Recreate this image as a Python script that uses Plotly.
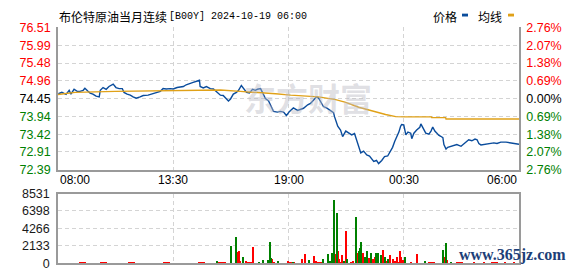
import plotly.graph_objects as go
import pandas as pd

W, H = 578, 276
BASE_DAY = "2024-10-18"
NEXT_DAY = "2024-10-19"

# ---------------- data ----------------
price_times = ["08:01","08:11","08:23","08:32","08:37","08:46","08:55","09:03","09:12","09:17","09:26","09:32","09:40","09:49","09:58","10:01","10:09","10:18","10:26","10:38","10:46","10:55","11:04","11:09","11:18","11:27","11:35","11:44","11:55","12:04","12:18","12:30","12:41","12:53","13:01","13:10","13:21","13:30","13:41","13:50","13:59","14:07","14:19","14:27","14:39","14:45","14:47","14:56","15:05","15:16","15:25","15:33","15:45","15:53","16:02","16:08","16:14","16:22","16:31","16:37","16:45","16:51","17:00","17:08","17:17","17:25","17:31","17:40","17:48","17:54","18:03","18:08","18:17","18:28","18:37","18:46","18:54","19:03","19:14","19:26","19:34","19:43","19:55","20:03","20:12","20:20","20:26","20:32","20:35","20:40","20:49","21:00","21:09","21:12","21:15","21:21","21:29","21:35","21:44","21:52","22:01","22:09","22:15","22:21","22:27","22:35","22:44","22:52","22:58","23:04","23:12","23:18","23:27","23:35","23:44","23:53","23:58","00:04","00:10","00:16","00:21","00:24","00:30","00:33","00:36","00:42","00:50","00:53","00:59","01:07","01:16","01:19","01:25","01:33","01:42","01:48","01:53","01:59","02:05","02:10","02:16","02:22","02:25","02:31","02:36","02:45","02:53","03:02","03:14","03:22","03:31","03:36","03:45","03:54","04:00","04:05","04:11","04:20","04:28","04:40","04:48","04:57","05:08","05:23","05:37","05:46","05:54","06:00"]
prices = [74.59,74.63,74.57,74.69,74.58,74.72,74.66,74.66,74.69,74.75,74.66,74.61,74.58,74.52,74.50,74.69,74.77,74.72,74.80,74.87,74.77,74.74,74.74,74.63,74.58,74.55,74.50,74.46,74.50,74.54,74.55,74.59,74.63,74.66,74.74,74.73,74.74,74.73,74.77,74.79,74.80,74.85,74.90,74.92,74.96,74.98,74.80,74.76,74.80,74.74,74.73,74.66,74.55,74.54,74.44,74.38,74.44,74.58,74.63,74.69,74.83,74.75,74.63,74.61,74.72,74.69,74.72,74.74,74.58,74.45,74.38,74.28,74.08,74.06,74.08,74.06,73.96,74.08,74.18,74.11,74.13,74.17,74.27,74.31,74.41,74.50,74.47,74.36,74.28,74.22,74.18,74.11,74.04,73.92,73.81,73.65,73.54,73.35,73.51,73.45,73.40,73.44,73.26,73.04,72.88,72.93,72.82,72.79,72.71,72.63,72.66,72.57,72.66,72.77,72.79,72.93,73.04,73.21,73.34,73.48,73.65,73.70,73.69,73.54,73.40,73.48,73.45,73.29,73.45,73.54,73.62,73.72,73.59,73.45,73.42,73.51,73.63,73.51,73.45,73.39,73.36,73.32,73.12,72.99,73.04,73.07,73.10,73.12,73.07,73.15,73.23,73.26,73.23,73.28,73.26,73.15,73.11,73.12,73.15,73.15,73.17,73.15,73.19,73.19,73.17,73.16,73.15,73.13]

avg_times = ["08:00","08:49","10:44","12:24","14:47","15:45","16:42","17:40","18:23","19:06","20:26","21:15","21:44","22:21","23:01","23:38","00:07","00:36","01:49","01:50","02:30","02:31","06:00"]
avg_prices = [74.57,74.63,74.66,74.68,74.69,74.70,74.66,74.63,74.59,74.55,74.50,74.42,74.34,74.20,74.08,73.99,73.93,73.92,73.92,73.90,73.90,73.86,73.86]

up_vol_times = ["15:42","16:32","16:37","16:42","16:57","17:17","18:14","19:00","19:40","19:46","20:12","20:20","21:12","21:21","21:26","21:32","21:44","21:58","22:04","22:17","22:33","22:50","23:01","23:07","23:32","23:41","23:51","23:58","00:04","00:11","00:18","00:21","00:27","00:50","01:07","01:47","02:26","02:34","03:02","03:50","04:20","04:50","05:20","05:45"]
up_vols = [200,1440,1560,400,300,2020,600,300,580,1230,960,300,1150,1540,640,1040,4040,250,350,1270,1270,690,580,850,1650,300,1080,580,300,850,1540,850,460,230,1150,200,850,460,150,180,150,200,170,160]

down_vol_times = ["15:36","16:14","16:31","16:51","17:37","17:48","18:00","18:06","18:11","18:31","19:12","20:00","20:38","20:52","20:58","21:06","21:10","21:18","21:38","21:48","22:13","22:22","22:25","22:28","22:38","22:45","22:56","23:11","23:16","23:24","23:36","23:46","00:34","01:32","02:22","02:30","02:44"]
down_vols = [400,2140,3310,850,200,450,500,2610,700,300,170,460,580,1150,350,1350,7800,6150,300,580,5770,1540,1920,2690,880,1540,1270,1270,1350,1080,850,580,850,380,1730,2500,230]

# small background volume, one value per 20-minute slot from 08:10
base_vols = [70,90,60,110,80,70,100,60,90,80,120,70,60,90,80,110,70,90,60,80,100,70,90,120,80,60,90,110,70,80,100,90,70,120,80,90,60,110,80,70,100,90,80,110,70,90,60,80,100,70,90,80,60,110,90,70,80,100,70,90,80,60,110,80,90,70]

prev_close = 74.45
price_ticks = [72.39, 72.91, 73.42, 73.94, 74.45, 74.96, 75.48, 75.99, 76.51]
pct_labels = ["2.76%", "2.07%", "1.38%", "0.69%", "0.00%", "0.69%", "1.38%", "2.07%", "2.76%"]
vol_ticks = [0, 2133, 4266, 6398, 8531]
time_ticks = ["08:00", "13:30", "19:00", "00:30", "06:00"]
title_cn = "布伦特原油当月连续"
title_code = "[B00Y] 2024-10-19 06:00"
legend_items = ["价格", "均线"]


def to_dt(t):
    day = BASE_DAY if t >= "08:00" else NEXT_DAY
    return pd.Timestamp(f"{day} {t}")


def dts(lst):
    return [to_dt(t) for t in lst]


def px(x):
    return x / W


def py(y):
    return 1 - y / H


RED = "#ff0000"
GREEN = "#008000"
BLUE = "#0a4c9c"
ORANGE = "#e0a118"
GRID = "#d4d4d4"
BORDER = "#9a9a9a"

x_lo, x_hi = to_dt("08:00"), to_dt("06:00")
base_times = pd.date_range(to_dt("08:10"), periods=len(base_vols), freq="20min")

fig = go.Figure()
fig.add_trace(go.Bar(x=base_times, y=base_vols, width=20 * 60000, marker=dict(color=RED, line_width=0),
                     xaxis="x2", yaxis="y3", showlegend=False))
fig.add_trace(go.Bar(x=dts(up_vol_times), y=up_vols, width=3 * 60000, marker=dict(color=RED, line_width=0),
                     xaxis="x2", yaxis="y3", showlegend=False))
fig.add_trace(go.Bar(x=dts(down_vol_times), y=down_vols, width=3 * 60000, marker=dict(color=GREEN, line_width=0),
                     xaxis="x2", yaxis="y3", showlegend=False))
fig.add_trace(go.Scatter(x=dts(avg_times), y=avg_prices, mode="lines", line=dict(color=ORANGE, width=1.4),
                         xaxis="x", yaxis="y2", showlegend=False))
fig.add_trace(go.Scatter(x=dts(price_times), y=prices, mode="lines", line=dict(color=BLUE, width=1.4),
                         xaxis="x", yaxis="y", showlegend=False))


def price_color(v):
    if abs(v - prev_close) < 1e-9:
        return "#000000"
    return RED if v > prev_close else GREEN


left_text = [f'<span style="color:{price_color(v)}">{v:.2f}</span>' for v in price_ticks]
right_text = [f'<span style="color:{price_color(v)}">{lab}</span>' for v, lab in zip(price_ticks, pct_labels)]

dom_x = [px(58), px(519)]
dom_p = [py(171.5), py(21.5)]
dom_v = [py(270), py(196.5)]
tick_font = dict(family="Arial, Liberation Sans", size=12.5, color="#000")

fig.update_layout(
    width=W, height=H, margin=dict(l=0, r=0, t=0, b=0),
    paper_bgcolor="white", plot_bgcolor="white",
    barmode="overlay", bargap=0,
    xaxis=dict(domain=dom_x, type="date", range=[x_lo, x_hi], tickvals=dts(time_ticks),
               showticklabels=False, showgrid=True, gridcolor=GRID, griddash="4px,3px", gridwidth=1,
               showline=True, linecolor=BORDER, linewidth=1.5, zeroline=False, anchor="y", fixedrange=True),
    yaxis=dict(domain=dom_p, range=[price_ticks[0], price_ticks[-1]], tickvals=price_ticks, ticktext=left_text,
               tickfont=tick_font, ticks="", ticklabelstandoff=3, showgrid=True, gridcolor=GRID,
               griddash="4px,3px", gridwidth=1, showline=True, linecolor=BORDER, linewidth=1.5,
               zeroline=False, anchor="x"),
    yaxis2=dict(overlaying="y", side="right", range=[price_ticks[0], price_ticks[-1]], tickvals=price_ticks,
                ticktext=right_text, tickfont=tick_font, ticks="", ticklabelstandoff=3, showgrid=False,
                showline=True, linecolor=BORDER, linewidth=1.5, zeroline=False, anchor="x"),
    xaxis2=dict(domain=dom_x, type="date", range=[x_lo, x_hi], tickvals=dts(time_ticks),
                showticklabels=False, showgrid=True, gridcolor=GRID, griddash="4px,3px", gridwidth=1,
                showline=True, mirror=True, linecolor=BORDER, linewidth=1.5, zeroline=False, anchor="y3"),
    yaxis3=dict(domain=dom_v, range=[0, vol_ticks[-1]], tickvals=vol_ticks, ticktext=[str(v) for v in vol_ticks],
                tickfont=dict(family="Arial, Liberation Sans", size=12.5, color="#1a1a1a"), ticks="",
                ticklabelstandoff=4, showgrid=True, gridcolor=GRID, griddash="4px,3px", gridwidth=1,
                showline=True, mirror=True, linecolor=BORDER, linewidth=1.5, zeroline=False, anchor="x2"),
)

ann = []
# x-axis time labels
for i, t in enumerate(time_ticks):
    anchor = "left" if i == 0 else ("right" if i == len(time_ticks) - 1 else "center")
    ann.append(dict(x=to_dt(t), xref="x", y=py(182), yref="paper", text=t, showarrow=False,
                    xanchor=anchor, yanchor="middle", font=dict(family="Arial, Liberation Sans", size=12, color="#000")))
# title
ann.append(dict(x=px(57), y=py(9.5), xref="paper", yref="paper", text=title_cn, showarrow=False,
                xanchor="left", yanchor="middle", font=dict(family="Noto Sans CJK SC", size=12, color="#000")))
ann.append(dict(x=px(167), y=py(10), xref="paper", yref="paper", text=title_code, showarrow=False,
                xanchor="left", yanchor="middle", font=dict(family="Liberation Mono", size=10, color="#000")))
# legend texts
ann.append(dict(x=px(431), y=py(9.5), xref="paper", yref="paper", text=legend_items[0], showarrow=False,
                xanchor="left", yanchor="middle", font=dict(family="Noto Sans CJK SC", size=12, color="#000")))
ann.append(dict(x=px(476), y=py(9.5), xref="paper", yref="paper", text=legend_items[1], showarrow=False,
                xanchor="left", yanchor="middle", font=dict(family="Noto Sans CJK SC", size=12, color="#000")))
# watermarks
ann.append(dict(x=px(308), y=py(95), xref="paper", yref="paper", text="<b>东方财富</b>", showarrow=False,
                xanchor="center", yanchor="middle",
                font=dict(family="Noto Sans CJK SC", size=32, color="rgba(185,185,195,0.45)")))
ann.append(dict(x=px(512), y=py(261), xref="paper", yref="paper", text="<b>www.365jz.com</b>", showarrow=False,
                xanchor="center", yanchor="middle",
                font=dict(family="Liberation Serif", size=16, color="#1d3f78")))
fig.update_layout(annotations=ann)

fig.update_layout(shapes=[
    dict(type="rect", xref="paper", yref="paper", x0=px(462), x1=px(468), y0=py(10), y1=py(7),
         fillcolor=BLUE, line_width=0),
    dict(type="rect", xref="paper", yref="paper", x0=px(508), x1=px(514), y0=py(10), y1=py(7),
         fillcolor=ORANGE, line_width=0),
])

fig.write_html("out.html")
